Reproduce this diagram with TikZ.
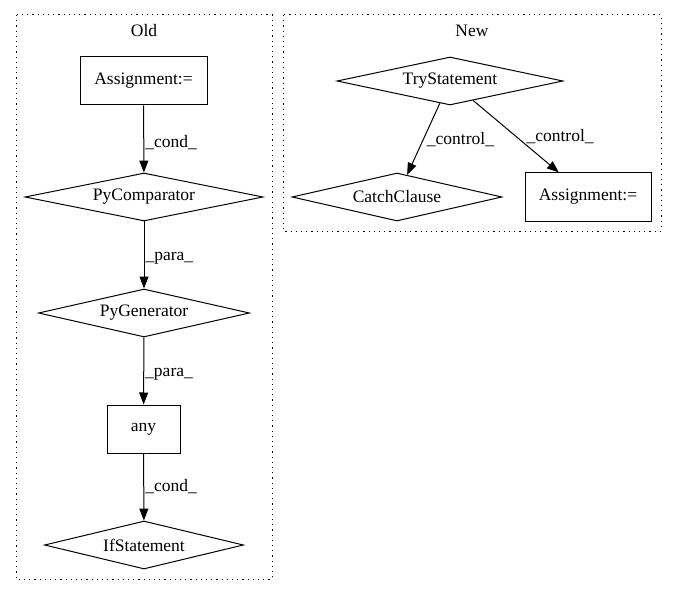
\documentclass[tikz,border=0pt]{standalone}
\usepackage{fontspec}
\setmainfont{Liberation Serif}
\usetikzlibrary{shapes.geometric,arrows.meta,positioning}

\begin{document}
\begin{tikzpicture}[x=1pt, y=-1pt,
  font=\fontsize{17.5}{20}\selectfont,
  line width=1pt,
  >={Triangle[length=12pt,width=9pt]},
  box/.style={draw, rectangle, minimum width=#1, minimum height=48pt, inner sep=0pt},
  cond/.style={draw, diamond, aspect=5, minimum width=#1, minimum height=48pt, inner sep=0pt},
  cluster/.style={line width=1pt, dash pattern=on 1.2pt off 4pt},
  lbl/.style={right, inner sep=1pt}]
\useasboundingbox (0,0) rectangle (677,596);

% Grupo Old
\draw[cluster] (16,15) rectangle (272,579);
\node (oldT) at (144,31) {Old};

\node[box=127pt] (asgnO) at (143.5,81) {Assignment:=}; % Nodo Assignment
\node[cond=238pt] (pycmp) at (144,197) {PyComparator};
\node[cond=211pt] (pygen) at (144,313) {PyGenerator};
\node[box=73pt] (any) at (143.5,429) {any};
\node[cond=199pt] (ifst) at (144,545) {IfStatement};

\draw[->] (asgnO) -- node[lbl, pos=0.55] {\_cond\_} (pycmp);
\draw[->] (pycmp) -- node[lbl, pos=0.55] {\_para\_} (pygen);
\draw[->] (pygen) -- node[lbl, pos=0.55] {\_para\_} (any);
\draw[->] (any) -- node[lbl, pos=0.5] {\_cond\_} (ifst);

% Grupo New
\draw[cluster] (283,15) rectangle (661,231);
\node (newT) at (472,31) {New};

\node[cond=226pt] (tryst) at (450,81) {TryStatement};
\node[cond=210pt] (catch) at (397,197) {CatchClause};
\node[box=126pt] (asgnN) at (588,197) {Assignment:=};

\draw[->] (tryst) -- node[lbl, pos=0.5, xshift=2pt] {\_control\_} (catch);
\draw[->] (tryst) -- node[lbl, pos=0.5, xshift=9pt] {\_control\_} (asgnN);

\end{tikzpicture}
\end{document}
